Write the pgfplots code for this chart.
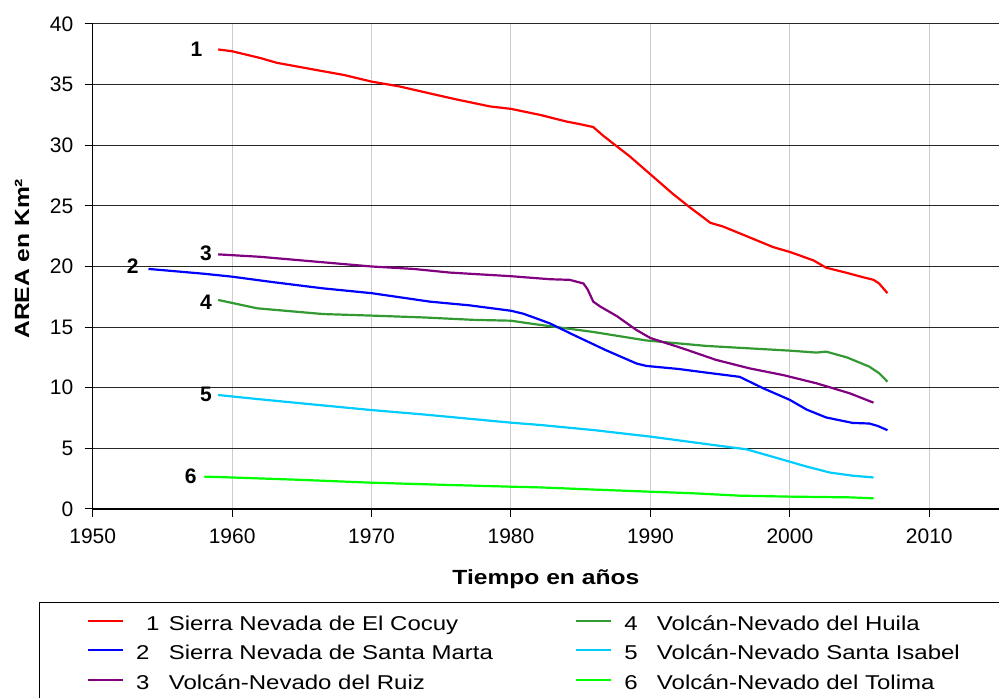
\documentclass[border=0pt]{standalone}
\usepackage{fontspec}
\setmainfont{Liberation Sans}
\newfontfamily\legfont[FakeStretch=1.2]{Liberation Sans}
\usepackage{pgfplots}
\pgfplotsset{compat=1.18}
\definecolor{c1}{RGB}{255,0,0}
\definecolor{c2}{RGB}{0,0,255}
\definecolor{c3}{RGB}{128,0,128}
\definecolor{c4}{RGB}{51,153,51}
\definecolor{c5}{RGB}{0,204,255}
\definecolor{c6}{RGB}{0,255,0}
\newcommand{\legE}[3][0bp]{\makebox[424bp][l]{\rule[-5bp]{0pt}{25bp}\makebox[32.6bp][l]{\hspace{#1}#2}#3}}
\begin{document}
\begin{tikzpicture}
\begin{axis}[
  at={(92.7bp,189bp)}, anchor=south west,
  scale only axis, width=906.3bp, height=485bp,
  xmin=1950, xmax=2015, ymin=0, ymax=40,
  xtick={1950,1960,1970,1980,1990,2000,2010},
  ytick={0,5,10,15,20,25,30,35,40},
  axis lines=left, axis line style={-, line width=1.2bp, black},
  tick align=outside, major tick length=8bp, tick style={black, line width=1bp},
  xmajorgrids, ymajorgrids,
  x grid style={color=black!20, line width=1bp},
  y grid style={color=black!85, line width=1bp},
  /pgf/number format/assume math mode=true,
  /pgf/number format/1000 sep={},
  tick label style={font=\fontsize{21bp}{25bp}\selectfont},
  xticklabel style={yshift=-8bp},
  yticklabel style={xshift=-8bp},
  xlabel={Tiempo en años}, ylabel={AREA en Km²},
  every axis x label/.style={at={(axis description cs:0.5,-0.1440)}, anchor=center, font=\legfont\bfseries\fontsize{20.5bp}{24bp}\selectfont},
  every axis y label/.style={at={(axis description cs:-0.078,0.516)}, rotate=90, anchor=center, font=\legfont\bfseries\fontsize{20.5bp}{24bp}\selectfont},
  legend columns=2,
  legend cell align=left,
  legend image code/.code={\draw[#1, line width=2.2bp] (0bp,0bp) -- (35bp,0bp);},
  legend style={at={(-0.0598,-0.1918)}, anchor=north west, draw=black, line width=1bp,
    inner xsep=48bp, inner ysep=7.5bp, nodes={inner sep=0bp}, row sep=8bp,
    font=\legfont\fontsize{20bp}{24bp}\selectfont,
    /tikz/every odd column/.append style={column sep=12bp},
    /tikz/every even column/.append style={column sep=15bp}},
  no markers, every axis plot/.append style={line width=2.2bp, line join=round},
]
% 1 Sierra Nevada de El Cocuy
\addplot[c1] coordinates {(1959,37.9) (1960,37.75) (1962,37.2) (1963.2,36.8) (1966.3,36.15) (1968,35.8) (1970,35.25) (1972,34.85) (1973.7,34.4) (1976,33.8) (1978.5,33.2) (1980,33.0) (1982.1,32.5) (1984,31.95) (1984.9,31.75) (1985.9,31.5) (1986.6,30.8) (1987.6,29.9) (1988.5,29.1) (1989.5,28.1) (1990.1,27.5) (1991,26.6) (1991.6,26.0) (1992.8,24.9) (1993.5,24.3) (1994.3,23.6) (1995.2,23.3) (1996.9,22.5) (1998.8,21.6) (2000,21.2) (2001.7,20.5) (2002.6,19.9) (2004,19.5) (2005.3,19.1) (2006,18.9) (2006.4,18.6) (2007,17.8)};
\addlegendentry{\legE[10bp]{1}{Sierra Nevada de El Cocuy}}
% 4 Huila
\addplot[c4] coordinates {(1959,17.24) (1961.8,16.55) (1966.5,16.08) (1970,15.95) (1973.7,15.8) (1977.3,15.6) (1980,15.53) (1981.6,15.26) (1985.9,14.6) (1989.7,13.9) (1994,13.45) (2000,13.06) (2001.9,12.9) (2002.6,12.98) (2004.1,12.5) (2005.7,11.74) (2006.4,11.2) (2007,10.5)};
\addlegendentry{\legE{4}{Volcán-Nevado del Huila}}
% 2 Santa Marta
\addplot[c2] coordinates {(1954,19.8) (1956,19.6) (1958,19.4) (1960,19.16) (1963,18.7) (1966.5,18.2) (1970,17.8) (1974.2,17.1) (1977,16.8) (1980,16.35) (1980.9,16.1) (1982.1,15.6) (1982.8,15.3) (1984.5,14.35) (1986.8,13.1) (1989,12.0) (1989.7,11.8) (1992,11.55) (1994,11.25) (1996.4,10.9) (1998.1,9.95) (2000,9.0) (2001.2,8.2) (2002.6,7.55) (2004.5,7.1) (2005.7,7.05) (2006.3,6.85) (2007,6.5)};
\addlegendentry{\legE{2}{Sierra Nevada de Santa Marta}}
% 5 Santa Isabel
\addplot[c5] coordinates {(1959,9.4) (1961.8,9.07) (1966,8.6) (1970,8.16) (1973.7,7.8) (1980,7.12) (1982.1,6.93) (1986,6.5) (1990,5.97) (1994.5,5.28) (1996.9,4.92) (2000,3.9) (2001.2,3.5) (2002.9,3.0) (2004.5,2.75) (2006,2.6)};
\addlegendentry{\legE{5}{Volcán-Nevado Santa Isabel}}
% 3 Ruiz
\addplot[c3] coordinates {(1959,21.0) (1962,20.8) (1966,20.4) (1970,20.0) (1973,19.8) (1975.6,19.5) (1980,19.2) (1982.8,18.95) (1984.2,18.9) (1985.2,18.6) (1985.5,18.1) (1985.9,17.1) (1986.4,16.7) (1987.6,15.9) (1989,14.76) (1990,14.1) (1992.3,13.25) (1994.7,12.3) (1997.1,11.6) (1999.5,11.05) (2001.9,10.37) (2004.3,9.54) (2006,8.77)};
\addlegendentry{\legE{3}{Volcán-Nevado del Ruiz}}
% 6 Tolima
\addplot[c6] coordinates {(1958,2.67) (1960,2.6) (1965,2.4) (1970,2.17) (1975,2.0) (1980,1.84) (1982.1,1.78) (1986,1.6) (1989.9,1.43) (1993,1.3) (1996.4,1.1) (2000,1.02) (2004.3,0.96) (2006,0.88)};
\addlegendentry{\legE{6}{Volcán-Nevado del Tolima}}
\node[anchor=east, inner sep=0bp, font=\bfseries\fontsize{21bp}{25bp}\selectfont] at (axis cs:1957.87,37.9) {1};
\node[anchor=east, inner sep=0bp, font=\bfseries\fontsize{21bp}{25bp}\selectfont] at (axis cs:1953.3,20.0) {2};
\node[anchor=east, inner sep=0bp, font=\bfseries\fontsize{21bp}{25bp}\selectfont] at (axis cs:1958.55,21.1) {3};
\node[anchor=east, inner sep=0bp, font=\bfseries\fontsize{21bp}{25bp}\selectfont] at (axis cs:1958.55,17.07) {4};
\node[anchor=east, inner sep=0bp, font=\bfseries\fontsize{21bp}{25bp}\selectfont] at (axis cs:1958.55,9.42) {5};
\node[anchor=east, inner sep=0bp, font=\bfseries\fontsize{21bp}{25bp}\selectfont] at (axis cs:1957.46,2.66) {6};
\end{axis}
\pgfresetboundingbox
\path[use as bounding box] (0,0) rectangle (999bp,698bp);
\end{tikzpicture}
\end{document}
